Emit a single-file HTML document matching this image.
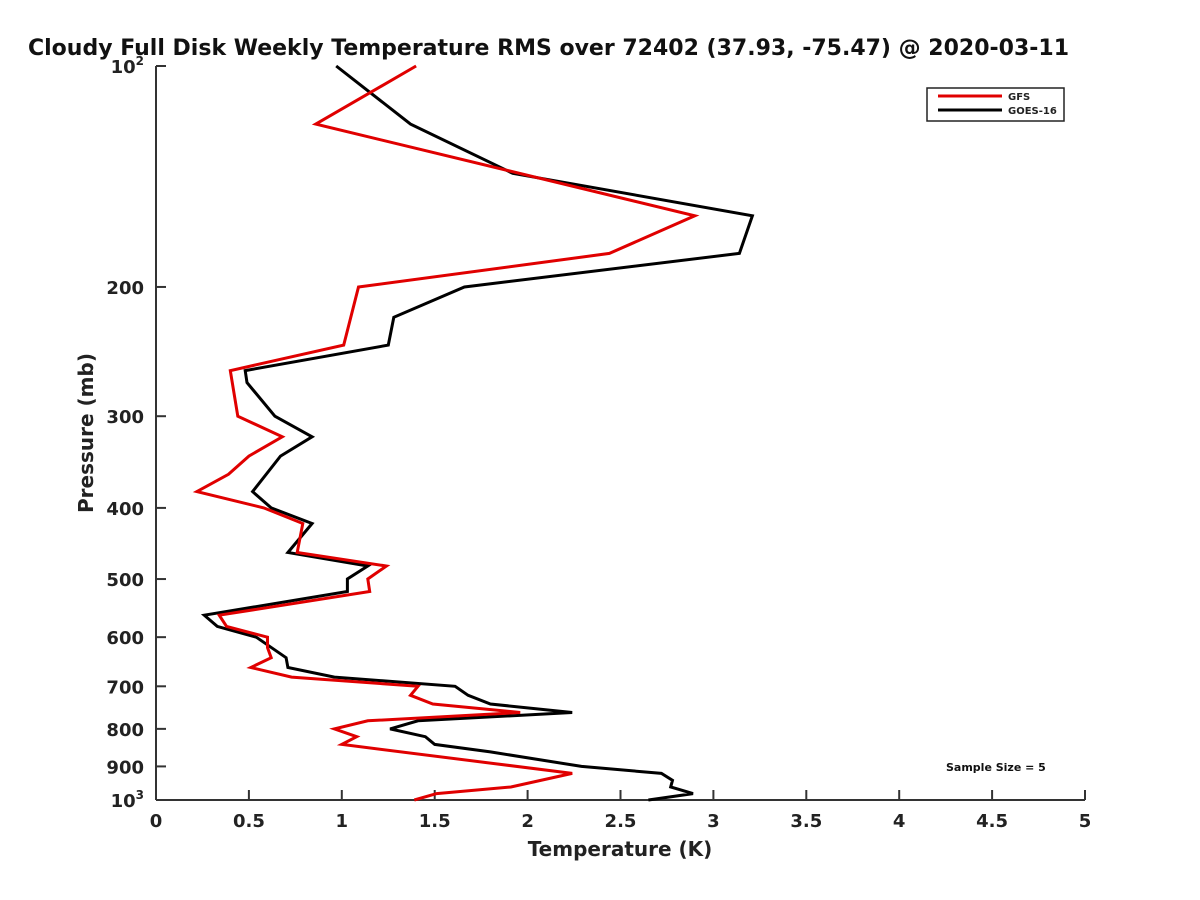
<!DOCTYPE html>
<html><head><meta charset="utf-8"><style>
body{margin:0;background:#fff;}
svg{display:block;font-family:"DejaVu Sans","Liberation Sans",sans-serif;}
</style></head><body>
<svg id="chart" width="1200" height="900" viewBox="0 0 1200 900" xmlns="http://www.w3.org/2000/svg">
<rect width="1200" height="900" fill="#fff"/>
<text x="28" y="55" font-size="22" font-weight="bold" fill="#111">Cloudy Full Disk Weekly Temperature RMS over 72402 (37.93, -75.47) @ 2020-03-11</text>
<g id="axes"></g>
<g id="series"></g>
<g>
<rect x="927" y="88" width="137" height="33" fill="#fff" stroke="#222" stroke-width="1.5"/>
<line x1="938" y1="96" x2="1002" y2="96" stroke="#e00000" stroke-width="3"/>
<text x="1008" y="100" font-size="10" font-weight="bold" fill="#222">GFS</text>
<line x1="938" y1="110" x2="1002" y2="110" stroke="#000" stroke-width="3"/>
<text x="1008" y="114" font-size="10" font-weight="bold" fill="#222">GOES-16</text>
</g>
<text x="946" y="771" font-size="11" font-weight="bold" fill="#111">Sample Size = 5</text>
<text x="620" y="856" font-size="20" font-weight="bold" text-anchor="middle" fill="#222">Temperature (K)</text>
<text transform="translate(93,433) rotate(-90)" font-size="20" font-weight="bold" text-anchor="middle" fill="#222">Pressure (mb)</text>
</svg>
<script>
const xTicks=[0,0.5,1,1.5,2,2.5,3,3.5,4,4.5,5];
const xTickLabels=["0","0.5","1","1.5","2","2.5","3","3.5","4","4.5","5"];
const yTicks=[100,200,300,400,500,600,700,800,900,1000];
const yTickLabels=["10|2","200","300","400","500","600","700","800","900","10|3"];
const gfsP=[100,120,160,180,200,240,260,300,320,340,360,380,400,420,460,480,500,520,560,580,600,620,640,660,680,700,720,740,760,780,800,820,840,920,960,980,1000];
const gfsT=[1.40,0.86,2.90,2.44,1.09,1.01,0.40,0.44,0.68,0.50,0.39,0.22,0.58,0.79,0.76,1.24,1.14,1.15,0.34,0.38,0.60,0.60,0.62,0.51,0.73,1.41,1.37,1.49,1.96,1.14,0.96,1.08,1.00,2.24,1.91,1.51,1.39];
const goesP=[100,120,140,160,180,200,220,240,260,270,300,320,340,380,400,420,460,480,500,520,560,580,600,640,660,680,700,720,740,760,780,800,820,840,860,900,920,940,960,980,1000];
const goesT=[0.97,1.37,1.92,3.21,3.14,1.66,1.28,1.25,0.48,0.49,0.64,0.84,0.67,0.52,0.62,0.84,0.71,1.14,1.03,1.03,0.26,0.33,0.54,0.70,0.71,0.96,1.61,1.68,1.80,2.24,1.41,1.26,1.45,1.50,1.80,2.29,2.72,2.78,2.77,2.89,2.65];
const X0=156,X1=1085,Y0=66,Y1=800;
function xs(t){return X0+(t-0)/(5-0)*(X1-X0);}
function ys(p){return Y0+(Math.log10(p)-2)*(Y1-Y0);}
const NS="http://www.w3.org/2000/svg";
const axes=document.getElementById('axes');
function mk(tag,attrs,parent){const e=document.createElementNS(NS,tag);for(const k in attrs)e.setAttribute(k,attrs[k]);parent.appendChild(e);return e;}
const xl=mk('line',{x1:X0,y1:Y1,x2:X1,y2:Y1,stroke:'#333','stroke-width':2},axes);


const yl=mk('line',{x1:X0,y1:Y0,x2:X0,y2:Y1,stroke:'#333','stroke-width':2},axes);


xTicks.forEach((t,i)=>{
  const x=xs(t);
  const tk=mk('line',{x1:x,y1:Y1,x2:x,y2:Y1-10,stroke:'#333','stroke-width':2},axes);
  
  
  const tx=mk('text',{x:x,y:Y1+27,'font-size':18,'font-weight':'bold','text-anchor':'middle',fill:'#222'},axes);
  tx.textContent=xTickLabels[i];
  
  
});
yTicks.forEach((p,i)=>{
  const y=ys(p);
  const tk=mk('line',{x1:X0,y1:y,x2:X0+10,y2:y,stroke:'#333','stroke-width':2},axes);
  
  
  const tx=mk('text',{x:X0-12,y:y+7,'font-size':18,'font-weight':'bold','text-anchor':'end',fill:'#222'},axes);
  const lab=yTickLabels[i];
  if(lab.indexOf('|')>=0){
    const parts=lab.split('|');
    const a=mk('tspan',{},tx);a.textContent=parts[0];
    const b=mk('tspan',{dy:-8,'font-size':12},tx);b.textContent=parts[1];
  } else tx.textContent=lab;
  
  
});
const ser=document.getElementById('series');
function line(T,P,color,name){
  const pts=T.map((t,i)=>xs(t).toFixed(1)+','+ys(P[i]).toFixed(1)).join(' ');
  const pl=mk('polyline',{points:pts,fill:'none',stroke:color,'stroke-width':3,'stroke-linejoin':'miter'},ser);
  
  
}
line(goesT,goesP,'#000','goes16-line');
line(gfsT,gfsP,'#e00000','gfs-line');
</script>
</body></html>
